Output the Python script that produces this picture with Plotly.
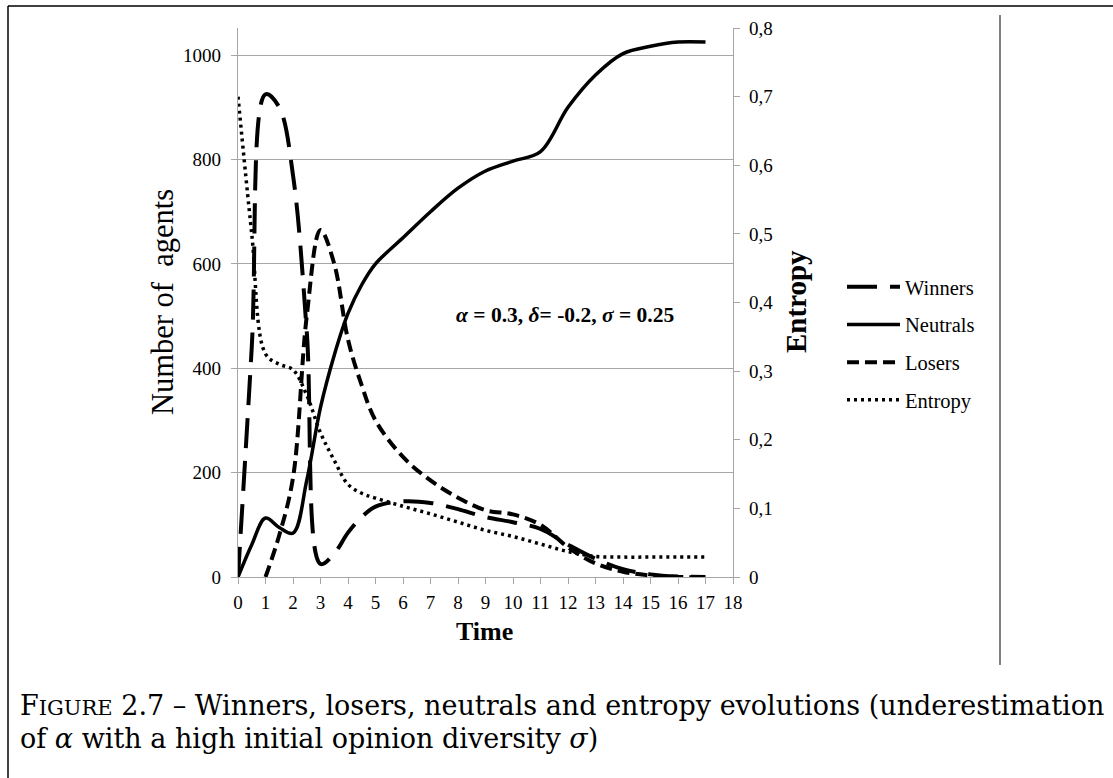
import plotly.graph_objects as go

# Time steps (finer sampling during the early transient)
time = [0, 0.5, 1, 1.5, 2, 2.5, 3, 3.5, 4, 4.5, 5, 6, 7, 8, 9, 10, 11, 12, 13, 14, 15, 16, 17]

winners = [0, 440, 925, 900, 770, 470, 25, 45, 85, 115, 135, 145, 142, 130, 115, 105, 92, 62, 35, 15, 5, 1, 0]
neutrals = [0, 62, 113, 95, 84, 185, 325, 425, 505, 560, 600, 650, 700, 745, 778, 797, 815, 900, 962, 1003, 1017, 1025, 1025]
losers = [None, None, 0, 80, 190, 500, 665, 600, 455, 367, 300, 230, 185, 152, 128, 120, 100, 57, 26, 10, 3, 0, 0]
entropy = [0.70, 0.50, 0.325, 0.31, 0.302, 0.265, 0.21, 0.17, 0.135, 0.122, 0.115, 0.103, 0.092, 0.08, 0.068,
           0.059, 0.048, 0.037, 0.03, 0.029, 0.029, 0.029, 0.029]

x_ticks = list(range(0, 19))
agent_ticks = [0, 200, 400, 600, 800, 1000]
entropy_ticks = [0, 0.1, 0.2, 0.3, 0.4, 0.5, 0.6, 0.7, 0.8]
entropy_labels = ["0", "0,1", "0,2", "0,3", "0,4", "0,5", "0,6", "0,7", "0,8"]

W, H = 1113, 778
L, R, T, B = 238, 733, 28, 577
PW, PH = R - L, B - T


def px(x):
    return (x - L) / PW


def py(y):
    return (B - y) / PH


SERIF = "Liberation Serif"
CAPTION = "DejaVu Serif"
GRID = "#a6a6a6"

fig = go.Figure()
fig.add_trace(go.Scatter(x=time, y=winners, name="Winners", mode="lines", legendgroup="w",
                         line=dict(color="black", width=4, dash="30px,13px", shape="spline")))
fig.add_trace(go.Scatter(x=time, y=neutrals, name="Neutrals", mode="lines", legendgroup="n",
                         line=dict(color="black", width=3.5, shape="spline")))
fig.add_trace(go.Scatter(x=time, y=losers, name="Losers", mode="lines", legendgroup="l",
                         line=dict(color="black", width=4, dash="12px,6px", shape="spline")))
fig.add_trace(go.Scatter(x=time, y=entropy, name="Entropy", mode="lines", legendgroup="e", yaxis="y2",
                         line=dict(color="black", width=3.5, dash="3px,4px", shape="spline")))

axis_font = dict(family=SERIF, size=19, color="black")

fig.update_layout(
    width=W, height=H,
    margin=dict(l=L, r=W - R, t=T, b=H - B, pad=0),
    paper_bgcolor="white", plot_bgcolor="white",
    font=dict(family=SERIF, color="black"),
    xaxis=dict(range=[0, 18], tickvals=x_ticks, ticks="outside", ticklen=6, tickcolor=GRID,
               showline=True, linecolor=GRID, linewidth=1.3, showgrid=False, zeroline=False,
               tickfont=axis_font, ticklabelstandoff=2),
    yaxis=dict(range=[0, 1052], tickvals=agent_ticks, ticks="outside", ticklen=6, tickcolor=GRID,
               showline=True, linecolor=GRID, linewidth=1.3, showgrid=True, gridcolor=GRID, gridwidth=1.3,
               zeroline=False, tickfont=axis_font, ticklabelstandoff=6),
    yaxis2=dict(range=[0, 0.8], tickvals=entropy_ticks, ticktext=entropy_labels, overlaying="y", side="right",
                ticks="outside", ticklen=6, tickcolor=GRID, showline=True, linecolor=GRID, linewidth=1.3,
                showgrid=False, zeroline=False, tickfont=axis_font, ticklabelstandoff=5),
    legend=dict(x=px(842), y=py(267), xanchor="left", yanchor="top", bgcolor="rgba(0,0,0,0)",
                font=dict(family=SERIF, size=20.5, color="black"), tracegroupgap=8, itemwidth=53),
    showlegend=True,
)

annotations = [
    dict(text="Number of  agents", x=px(163), y=py(302), textangle=-90, font=dict(family=SERIF, size=30.5)),
    dict(text="<b>Entropy</b>", x=px(796), y=py(302), textangle=-90, font=dict(family=SERIF, size=29)),
    dict(text="<b>Time</b>", x=px(484), y=py(631), font=dict(family=SERIF, size=26)),
    dict(text="<b><i>α</i> = 0.3, <i>δ</i>= -0.2, <i>σ</i> = 0.25</b>", x=px(565), y=py(315),
         font=dict(family=SERIF, size=21.5)),
    dict(text="F<span style='font-size:21px'>IGURE</span> 2.7 – Winners, losers, neutrals and entropy evolutions (underestimation",
         x=px(18), y=py(705), xanchor="left", font=dict(family=CAPTION, size=27)),
    dict(text="of <i>α</i> with a high initial opinion diversity <i>σ</i>)",
         x=px(18), y=py(739), xanchor="left", font=dict(family=CAPTION, size=27)),
]
for a in annotations:
    a.update(xref="paper", yref="paper", showarrow=False)
    a.setdefault("xanchor", "center")
    a["yanchor"] = "middle"
fig.update_layout(annotations=annotations)

# page frame
fig.add_shape(type="line", xref="paper", yref="paper", x0=px(8), x1=px(W + 5), y0=py(6), y1=py(6),
              line=dict(color="black", width=1.5))
fig.add_shape(type="line", xref="paper", yref="paper", x0=px(8), x1=px(8), y0=py(6), y1=py(H + 5),
              line=dict(color="black", width=1.5))
fig.add_shape(type="line", xref="paper", yref="paper", x0=px(1000), x1=px(1000), y0=py(15), y1=py(665),
              line=dict(color="#808080", width=2))

fig.write_html("out.html")
